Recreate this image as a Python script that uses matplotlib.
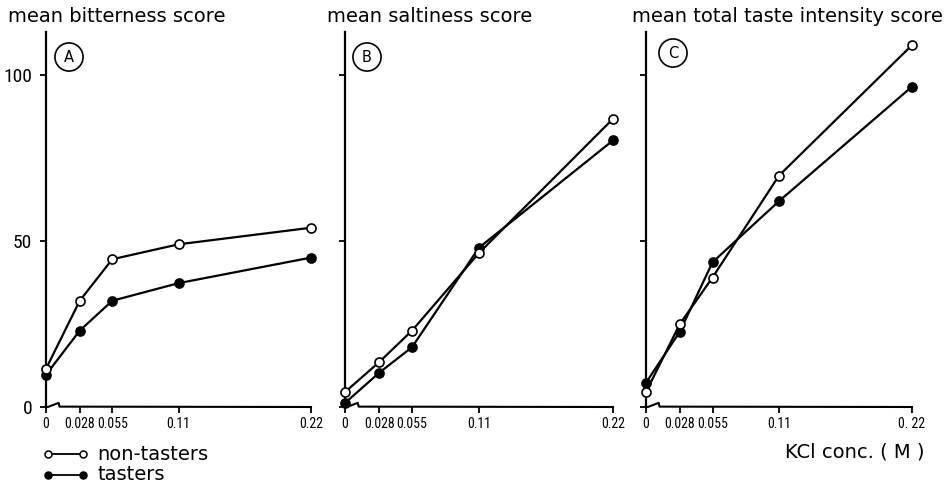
import matplotlib
matplotlib.use("Agg")
import matplotlib.pyplot as plt
import matplotlib.transforms as mtransforms
from matplotlib.lines import Line2D

# KCl concentrations (M) and tick labels
conc = [0, 0.028, 0.055, 0.11, 0.22]
conc_labels_ab = ["0", "0.028", "0.055", "0.11", "0.22"]
conc_labels_c = ["0", "0.028", "0.055", "0.11", "0. 22"]

# mean scores: non-tasters (open circles) and tasters (filled circles)
bitter_non = [11.5, 32, 44.5, 49, 54]
bitter_tas = [9.7, 23, 32, 37.3, 45]
salt_non = [4.5, 13.5, 23, 46.4, 86.8]
salt_tas = [1.2, 10.3, 18, 48, 80.3]
total_non = [4.5, 25, 39, 69.7, 109]
total_tas = [7.3, 22.7, 43.6, 62, 96.5]

titles = ["mean bitterness score", "mean saltiness score",
          "mean total taste intensity score"]
panel_letters = ["A", "B", "C"]
yticks = [0, 50, 100]

W, H = 949, 488
fig = plt.figure(figsize=(W / 100, H / 100), dpi=100)

TXT = "DejaVu Sans"
NUM = "Roboto Condensed"


def px_rect(x0, x1, ytop=32, ybot=407):
    return [x0 / W, (H - ybot) / H, (x1 - x0) / W, (ybot - ytop) / H]


rects = [px_rect(46, 311), px_rect(345, 613), px_rect(646, 912)]
series = [(bitter_non, bitter_tas), (salt_non, salt_tas), (total_non, total_tas)]
ymax = (407 - 32) / 3.32

for i, (rect, (non, tas)) in enumerate(zip(rects, series)):
    ax = fig.add_axes(rect)
    ax.set_xlim(0, 0.22)
    ax.set_ylim(0, ymax)
    for s in ("top", "right", "bottom"):
        ax.spines[s].set_visible(False)
    ax.spines["left"].set_linewidth(1.6)

    # bottom axis with a small break near the origin
    tr = mtransforms.blended_transform_factory(ax.transData, ax.transAxes)
    ax.add_line(Line2D([0, 0.0015, 0.0105, 0.0112, 0.22],
                       [0, 0, 0.011, 0.001, 0], transform=tr, color="k",
                       lw=1.5, clip_on=False))

    ax.plot(conc, tas, "-o", color="k", lw=1.6, ms=6.5, mfc="k", mec="k",
            mew=1.2, clip_on=False, zorder=3)
    ax.plot(conc, non, "-o", color="k", lw=1.6, ms=6.5, mfc="white", mec="k",
            mew=1.2, clip_on=False, zorder=4)

    ax.set_xticks(conc)
    ax.set_xticklabels(conc_labels_c if i == 2 else conc_labels_ab,
                       family=NUM, fontsize=10)
    ax.set_yticks(yticks)
    if i == 0:
        ax.set_yticklabels([str(v) for v in yticks], family=NUM, fontsize=14)
    else:
        ax.set_yticklabels([])
    ax.tick_params(axis="x", direction="out", length=4, width=1.3, pad=3)
    ax.tick_params(axis="y", direction="out", length=4, width=1.3, pad=6)

    fig.text([8, 327, 632][i] / W, 1 - 16 / H, titles[i], ha="left",
             va="center", family=TXT, fontsize=14)

# circled panel letters
for (cx, cy), letter in zip([(69, 57), (367, 57), (673, 53)], panel_letters):
    fig.text(cx / W, 1 - cy / H, letter, ha="center", va="center",
             family=TXT, fontsize=10.5,
             bbox=dict(boxstyle="circle,pad=0.45", fc="none", ec="k", lw=1.2))

# legend
for y, fill, label in [(454, "white", "non-tasters"), (475, "k", "tasters")]:
    fig.add_artist(Line2D([48 / W, 83 / W], [1 - y / H, 1 - y / H],
                          transform=fig.transFigure, color="k", lw=1.3,
                          marker="o", ms=5, mfc=fill, mec="k", mew=1.1))
    fig.text(97 / W, 1 - y / H, label, ha="left", va="center",
             family=TXT, fontsize=14)

fig.text(785 / W, 1 - 452 / H, "KCl conc. ( M )", ha="left", va="center",
         family=TXT, fontsize=14)

fig.savefig("out.png", dpi=100)
